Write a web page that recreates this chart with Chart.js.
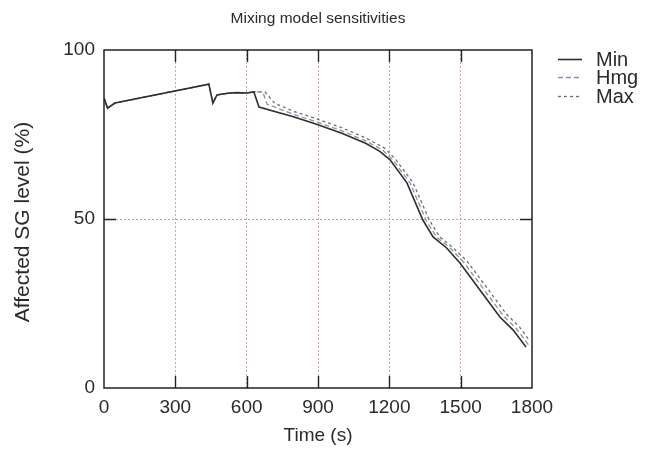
<!DOCTYPE html>
<html>
<head>
<meta charset="utf-8">
<script src="https://cdn.jsdelivr.net/npm/chart.js@4/dist/chart.umd.min.js"></script>
<style>
  html, body { margin: 0; padding: 0; background: #ffffff; }
  #wrap { width: 646px; height: 449px; position: relative; }
</style>
</head>
<body>
<div id="wrap"><canvas id="c" width="646" height="449"></canvas></div>
<script>
// ---- data ----
const chartTitle = "Mixing model sensitivities";
const xTitle = "Time (s)";
const yTitle = "Affected SG level (%)";
const seriesNames = ["Min", "Hmg", "Max"];

const xTicks = [0, 300, 600, 900, 1200, 1500, 1800];
const yTicks = [0, 50, 100];

const minTime  = [0, 15, 46, 441, 458, 475, 520, 560, 600, 630, 652, 800, 900, 1000, 1100, 1160, 1203, 1274, 1341, 1384, 1440, 1497, 1581, 1665, 1720, 1775];
const minLevel = [85.8, 82.8, 84.3, 89.9, 84.3, 86.7, 87.2, 87.4, 87.3, 87.6, 83.1, 80.2, 77.9, 75.4, 72.4, 70.0, 67.5, 60.7, 49.7, 44.7, 41.5, 37.0, 29.0, 21.0, 17.2, 12.1];

const hmgTime  = [0, 15, 46, 441, 458, 475, 520, 560, 600, 630, 668, 685, 800, 900, 1000, 1100, 1170, 1215, 1287, 1354, 1398, 1454, 1511, 1595, 1679, 1734, 1785];
const hmgLevel = [85.8, 82.8, 84.3, 89.9, 84.3, 86.7, 87.2, 87.4, 87.3, 87.6, 87.6, 84.0, 80.9, 78.6, 76.1, 73.1, 70.5, 67.5, 60.7, 49.7, 44.7, 41.5, 37.4, 29.4, 21.4, 17.6, 12.8];

const maxTime  = [0, 15, 46, 441, 458, 475, 520, 560, 600, 630, 677, 719, 800, 900, 1000, 1100, 1180, 1228, 1300, 1368, 1412, 1468, 1525, 1609, 1693, 1748, 1790];
const maxLevel = [85.8, 82.8, 84.3, 89.9, 84.3, 86.7, 87.2, 87.4, 87.3, 87.6, 87.6, 84.2, 81.8, 79.5, 77.0, 74.0, 71.0, 67.5, 60.7, 49.7, 44.7, 41.5, 37.7, 29.8, 21.8, 18.0, 14.0];

// ---- build ----
function pts(t, v) { return t.map((x, i) => ({ x: x, y: v[i] })); }

const styles = [
  { color: '#2e2e2e', width: 1.6, dash: [] },
  { color: '#8494ab', width: 1.3, dash: [5, 3] },
  { color: '#6e6e6e', width: 1.3, dash: [3, 3] }
];

const datasets = [pts(minTime, minLevel), pts(hmgTime, hmgLevel), pts(maxTime, maxLevel)].map((d, i) => ({
  label: seriesNames[i],
  data: d,
  borderColor: styles[i].color,
  borderWidth: styles[i].width,
  borderDash: styles[i].dash,
  pointRadius: 0,
  fill: false,
  tension: 0
}));

const FONT = "'Liberation Sans', Arial, sans-serif";

const decor = {
  id: 'decor',
  afterDatasetsDraw(chart) {
    const ctx = chart.ctx;
    const a = chart.chartArea;
    const xs = chart.scales.x, ys = chart.scales.y;
    ctx.save();
    // frame
    ctx.strokeStyle = '#222';
    ctx.lineWidth = 1.5;
    ctx.setLineDash([]);
    ctx.strokeRect(a.left, a.top, a.right - a.left, a.bottom - a.top);
    // inward tick marks
    const L = 12;
    ctx.lineWidth = 1.4;
    ctx.beginPath();
    xTicks.slice(1, -1).forEach(v => {
      const px = Math.round(xs.getPixelForValue(v)) + 0.5;
      ctx.moveTo(px, a.bottom); ctx.lineTo(px, a.bottom - L);
      ctx.moveTo(px, a.top); ctx.lineTo(px, a.top + L);
    });
    yTicks.slice(1, -1).forEach(v => {
      const py = Math.round(ys.getPixelForValue(v)) + 0.5;
      ctx.moveTo(a.left, py); ctx.lineTo(a.left + L, py);
      ctx.moveTo(a.right, py); ctx.lineTo(a.right - L, py);
    });
    ctx.stroke();
    // title
    ctx.fillStyle = '#2a2a2a';
    ctx.textAlign = 'center';
    ctx.textBaseline = 'middle';
    ctx.font = '15.5px ' + FONT;
    ctx.fillText(chartTitle, (a.left + a.right) / 2, 19);
    // x title
    ctx.font = '19px ' + FONT;
    ctx.fillText(xTitle, (a.left + a.right) / 2, 436);
    // y title
    ctx.save();
    ctx.translate(23, 222);
    ctx.rotate(-Math.PI / 2);
    ctx.font = '21px ' + FONT;
    ctx.fillText(yTitle, 0, 0);
    ctx.restore();
    // legend
    const ly = [59, 77, 96];
    chart.data.datasets.forEach((ds, i) => {
      ctx.strokeStyle = ds.borderColor;
      ctx.lineWidth = ds.borderWidth;
      ctx.setLineDash(ds.borderDash);
      ctx.beginPath();
      ctx.moveTo(558, ly[i] + 0.5);
      ctx.lineTo(582, ly[i] + 0.5);
      ctx.stroke();
      ctx.setLineDash([]);
      ctx.fillStyle = '#2a2a2a';
      ctx.textAlign = 'left';
      ctx.font = '20px ' + FONT;
      ctx.fillText(ds.label, 596, ly[i] + 1);
    });
    ctx.restore();
  }
};

new Chart(document.getElementById('c'), {
  type: 'line',
  data: { datasets: datasets },
  plugins: [decor],
  options: {
    responsive: false,
    animation: false,
    layout: { padding: { top: 50, right: 114, bottom: 0, left: 0 } },
    plugins: { legend: { display: false }, title: { display: false }, tooltip: { enabled: false } },
    scales: {
      x: {
        type: 'linear',
        min: 0, max: 1800,
        afterBuildTicks: s => { s.ticks = xTicks.map(v => ({ value: v })); },
        afterFit: s => { s.height = 61; },
        ticks: { color: '#2a2a2a', font: { size: 19, family: FONT }, padding: 8, maxRotation: 0, autoSkip: false, callback: v => String(v) },
        grid: {
          drawTicks: false,
          lineWidth: 1,
          color: c => (c.tick && (c.tick.value === 0 || c.tick.value === 1800)) ? 'rgba(0,0,0,0)' : '#c4a9a6'
        },
        border: { display: false, dash: [2, 2] }
      },
      y: {
        type: 'linear',
        min: 0, max: 100,
        afterBuildTicks: s => { s.ticks = yTicks.map(v => ({ value: v })); },
        afterFit: s => { s.width = 104; },
        ticks: { color: '#2a2a2a', font: { size: 19, family: FONT }, padding: 9, callback: v => String(v) },
        grid: {
          drawTicks: false,
          lineWidth: 1,
          color: c => (c.tick && (c.tick.value === 0 || c.tick.value === 100)) ? 'rgba(0,0,0,0)' : '#c4a9a6'
        },
        border: { display: false, dash: [2, 2] }
      }
    }
  }
});
</script>
</body>
</html>
